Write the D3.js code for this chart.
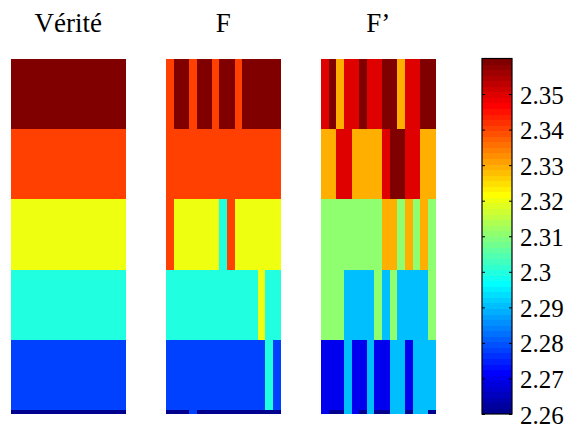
<!DOCTYPE html>
<html>
<head>
<meta charset="utf-8">
<script src="https://cdn.jsdelivr.net/npm/d3@7"></script>
<style>
  html, body { margin: 0; padding: 0; background: #fff; }
  svg { display: block; }
  text { font-family: "Liberation Serif", "Times New Roman", serif; fill: #000; }
</style>
</head>
<body>
<script>
// ---------- DATA ----------
const panelTitles = ["Vérité", "F", "F\u2019"];
// row boundaries (grid rows): five layers of 20 rows + one bottom row
const rowEdges = [0, 20, 40, 60, 80, 100, 101];
const nCols = 15;

// Vérité: uniform layers
const veriteLayers = [2.36, 2.34, 2.32, 2.30, 2.278, 2.26];

// F : one array of 15 column values per layer
const fLayer1 = [2.34, 2.36, 2.36, 2.34, 2.36, 2.36, 2.34, 2.36, 2.36, 2.34, 2.36, 2.36, 2.36, 2.36, 2.36];
const fLayer2 = [2.34, 2.34, 2.34, 2.34, 2.34, 2.34, 2.34, 2.34, 2.34, 2.34, 2.34, 2.34, 2.34, 2.34, 2.34];
const fLayer3 = [2.34, 2.32, 2.32, 2.32, 2.32, 2.32, 2.32, 2.30, 2.34, 2.32, 2.32, 2.32, 2.32, 2.32, 2.32];
const fLayer4 = [2.30, 2.30, 2.30, 2.30, 2.30, 2.30, 2.30, 2.30, 2.30, 2.30, 2.30, 2.30, 2.32, 2.30, 2.30];
const fLayer5 = [2.278, 2.278, 2.278, 2.278, 2.278, 2.278, 2.278, 2.278, 2.278, 2.278, 2.278, 2.278, 2.278, 2.30, 2.278];
const fLayer6 = [2.26, 2.26, 2.26, 2.278, 2.26, 2.26, 2.26, 2.26, 2.26, 2.26, 2.26, 2.26, 2.26, 2.26, 2.26];

// F' : one array of 15 column values per layer
const gLayer1 = [2.35, 2.36, 2.33, 2.35, 2.35, 2.36, 2.35, 2.35, 2.36, 2.36, 2.33, 2.35, 2.35, 2.36, 2.36];
const gLayer2 = [2.33, 2.33, 2.35, 2.35, 2.33, 2.33, 2.33, 2.33, 2.35, 2.36, 2.36, 2.35, 2.35, 2.33, 2.33];
const gLayer3 = [2.31, 2.31, 2.31, 2.31, 2.31, 2.31, 2.31, 2.31, 2.33, 2.33, 2.31, 2.33, 2.31, 2.33, 2.31];
const gLayer4 = [2.31, 2.31, 2.31, 2.29, 2.29, 2.29, 2.29, 2.31, 2.29, 2.31, 2.29, 2.29, 2.29, 2.29, 2.31];
const gLayer5 = [2.27, 2.27, 2.27, 2.29, 2.27, 2.27, 2.29, 2.27, 2.27, 2.29, 2.29, 2.27, 2.29, 2.29, 2.29];
const gLayer6 = [2.27, 2.26, 2.26, 2.29, 2.27, 2.26, 2.29, 2.26, 2.26, 2.29, 2.29, 2.26, 2.29, 2.29, 2.26];

const colorDomain = [2.26, 2.36];
const tickValues = [2.26, 2.27, 2.28, 2.29, 2.30, 2.31, 2.32, 2.33, 2.34, 2.35];
const tickLabels = ["2.26", "2.27", "2.28", "2.29", "2.3", "2.31", "2.32", "2.33", "2.34", "2.35"];

// ---------- BUILD ----------
const panels = [
  veriteLayers.map(v => d3.range(nCols).map(() => v)),
  [fLayer1, fLayer2, fLayer3, fLayer4, fLayer5, fLayer6],
  [gLayer1, gLayer2, gLayer3, gLayer4, gLayer5, gLayer6]
];

// MATLAB jet(64)
function jet(m) {
  const n = Math.ceil(m / 4);
  const u = [];
  for (let i = 1; i <= n; i++) u.push(i / n);
  for (let i = 1; i < n; i++) u.push(1);
  for (let i = n; i >= 1; i--) u.push(i / n);
  const off = Math.ceil(n / 2) - (m % 4 === 1 ? 1 : 0);
  const cols = d3.range(m).map(() => [0, 0, 0]);
  u.forEach((val, k) => {
    const g = off + k;        // 0-based row
    const r = g + n, b = g - n;
    if (g >= 0 && g < m) cols[g][1] = val;
    if (r >= 0 && r < m) cols[r][0] = val;
    if (b >= 0 && b < m) cols[b][2] = val;
  });
  return cols.map(c => d3.rgb(Math.round(c[0] * 255), Math.round(c[1] * 255), Math.round(c[2] * 255)).toString());
}
const jetColors = jet(64);
const color = v => {
  const t = (v - colorDomain[0]) / (colorDomain[1] - colorDomain[0]);
  const i = Math.max(0, Math.min(63, Math.floor(t * 64 + 1e-9)));
  return jetColors[i];
};

const W = 567, H = 426;
const svg = d3.select("body").append("svg").attr("width", W).attr("height", H);

const panelX = d3.scaleBand().domain(d3.range(3)).range([11, 435.5])
  .paddingInner(1 - 114.5 / 155).paddingOuter(0);
const y = d3.scaleLinear().domain([0, 101]).range([59, 413.5]);

panels.forEach((layers, p) => {
  const g = svg.append("g");
  const x = d3.scaleLinear().domain([0, nCols]).range([panelX(p), panelX(p) + panelX.bandwidth()]);
  const cells = [];
  layers.forEach((row, li) => row.forEach((v, ci) => cells.push({ li, ci, v })));
  g.selectAll("rect").data(cells).join("rect")
    .attr("x", d => x(d.ci))
    .attr("width", d => x(d.ci + 1) - x(d.ci) + (d.ci < nCols - 1 ? 0.3 : 0))
    .attr("y", d => y(rowEdges[d.li]))
    .attr("height", d => y(rowEdges[d.li + 1]) - y(rowEdges[d.li]) + (d.li < layers.length - 1 ? 0.3 : 0))
    .attr("fill", d => color(d.v))
    .attr("shape-rendering", "crispEdges");
  svg.append("text")
    .attr("x", panelX(p) + panelX.bandwidth() / 2)
    .attr("y", 31.5)
    .attr("text-anchor", "middle")
    .attr("font-size", 27)
    .text(panelTitles[p]);
});

// ---------- COLORBAR ----------
const cbX0 = 482, cbX1 = 512;
const cy = d3.scaleLinear().domain(colorDomain).range([414, 58.5]);
const bands = d3.range(64);
const bandVal = i => colorDomain[0] + i * (colorDomain[1] - colorDomain[0]) / 64;
svg.append("g").selectAll("rect").data(bands).join("rect")
  .attr("x", cbX0)
  .attr("width", cbX1 - cbX0)
  .attr("y", i => cy(bandVal(i + 1)))
  .attr("height", i => cy(bandVal(i)) - cy(bandVal(i + 1)) + (i > 0 ? 0.5 : 0))
  .attr("fill", i => jetColors[i])
  .attr("shape-rendering", "crispEdges");

svg.append("rect")
  .attr("x", cbX0).attr("y", cy(colorDomain[1]))
  .attr("width", cbX1 - cbX0).attr("height", cy(colorDomain[0]) - cy(colorDomain[1]))
  .attr("fill", "none").attr("stroke", "#000").attr("stroke-width", 1.2);

const axR = svg.append("g").attr("transform", `translate(${cbX1},0)`)
  .call(d3.axisRight(cy).tickValues(tickValues).tickSizeInner(-3).tickSizeOuter(0).tickPadding(8)
    .tickFormat((d, i) => tickLabels[i]));
axR.select(".domain").remove();
axR.selectAll("line").attr("stroke", "#000").attr("stroke-width", 1);
axR.selectAll("text")
  .attr("font-family", "Liberation Serif, Times New Roman, serif")
  .attr("font-size", 25)
  .attr("dy", "0.32em")
  .attr("y", 1)
  .attr("fill", "#000");

const axL = svg.append("g").attr("transform", `translate(${cbX0},0)`)
  .call(d3.axisLeft(cy).tickValues(tickValues).tickSizeInner(-3).tickSizeOuter(0).tickFormat(""));
axL.select(".domain").remove();
axL.selectAll("line").attr("stroke", "#000").attr("stroke-width", 1);
</script>
</body>
</html>
